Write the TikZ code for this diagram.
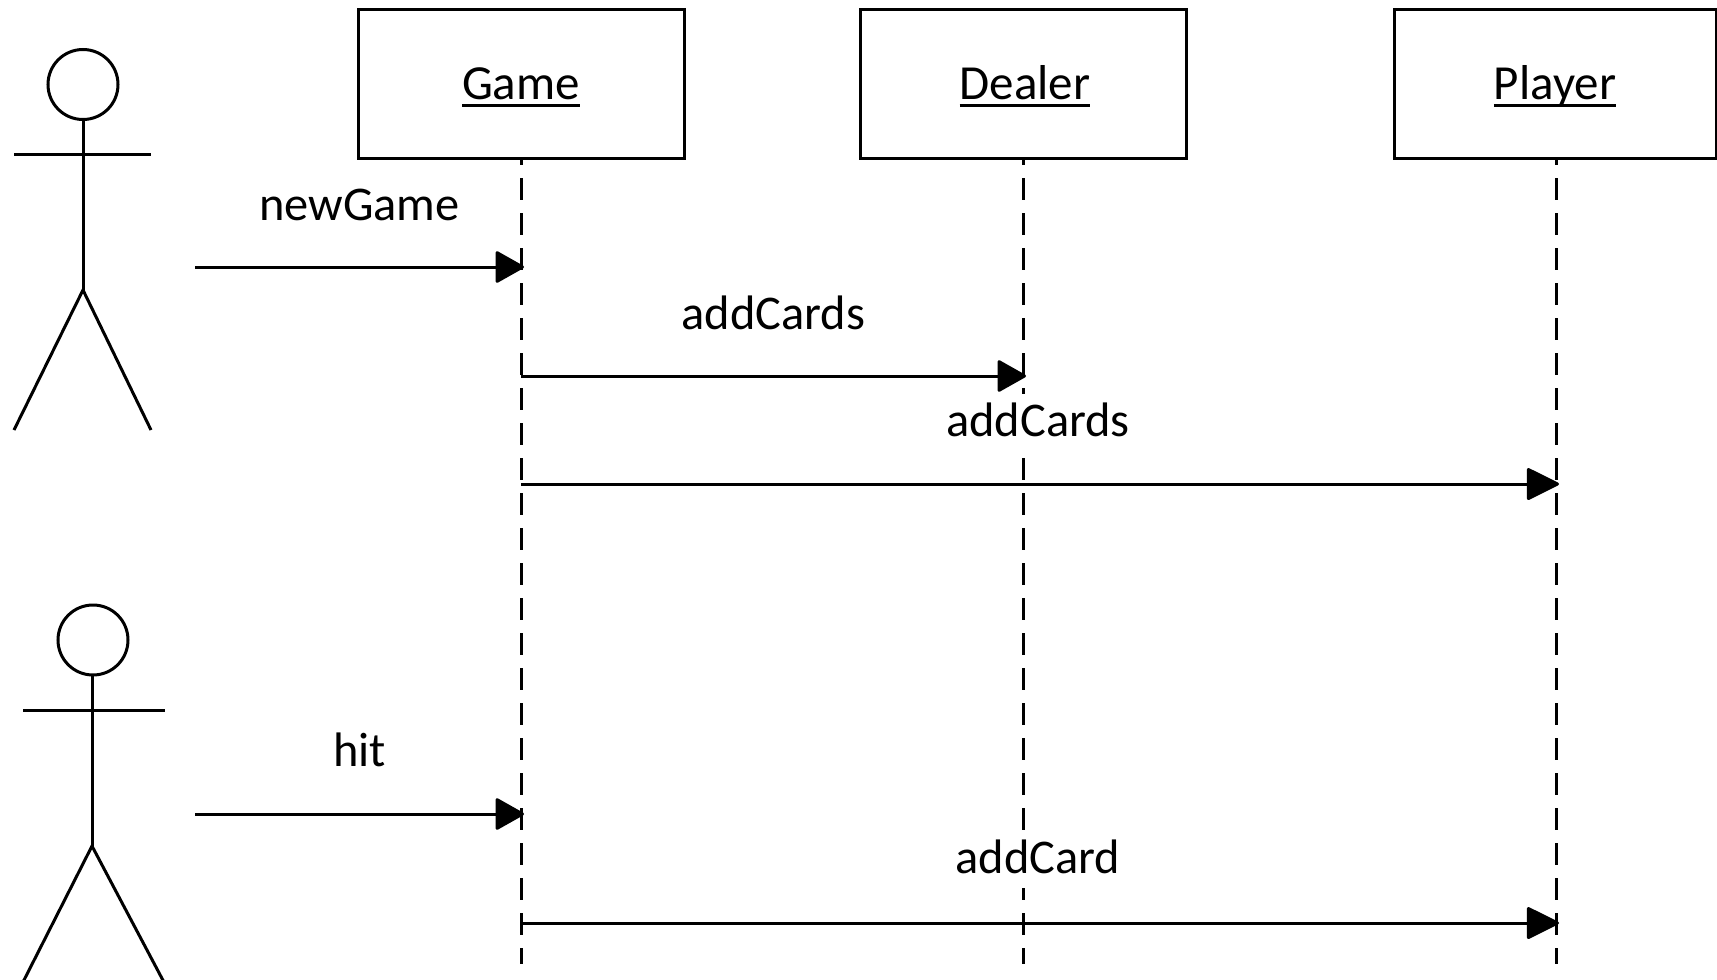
\documentclass[tikz,border=0pt]{standalone}
\usepackage{fontspec}
\setmainfont{Carlito}
\usetikzlibrary{arrows.meta, positioning, calc}
\newcommand{\ulname}[1]{\setbox0\hbox{#1}\rlap{\rule[-7.5pt]{\wd0}{3pt}}\box0}
\tikzstyle{lifebox} = [rectangle, draw=black, line width=3pt, minimum width=326pt, minimum height=149pt, outer sep=0pt, text height=37pt, text depth=6pt, font=\fontsize{49}{58}\selectfont]
\tikzstyle{lifeline} = [line width=3pt, dash pattern=on 22pt off 13pt, dash phase=15pt]
\tikzstyle{arrow} = [line width=3pt, -{Triangle[length=30pt, width=33pt, round]}]
\tikzstyle{longarrow} = [line width=3pt, -{Triangle[length=34pt, width=33pt, round]}]

\begin{document}
\begin{tikzpicture}[x=1pt, y=-1pt,
    node distance=176pt and 176pt,
    msg/.style={font=\fontsize{48.4}{58}\selectfont, anchor=base, inner sep=0pt, fill=white, text height=42pt, text depth=14pt},
    limb/.style={line width=3pt},
    head/.style={circle, draw, line width=3pt, minimum size=70pt, inner sep=0pt, outer sep=0pt}
  ]
    \useasboundingbox (0,0) rectangle (1717,980);
    \begin{scope}
    \clip (0,0) rectangle (1717,980);

    % Boxes along the top
    \node[lifebox] at (521,83.5) (Game) {\ulname{Game}};
    \node[lifebox, right=of Game] (Dealer) {\hspace*{4pt}\ulname{Dealer}};
    \node[lifebox, right=208pt of Dealer, minimum width=322pt] (Player) {\ulname{Player}};

    % Lifelines
    \coordinate (PlayerTop) at ($(Player.south)+(1,0)$);
    \coordinate (GameEnd) at (Game.south |- 0,964);
    \coordinate (DealerEnd) at (Dealer.south |- 0,964);
    \coordinate (PlayerEnd) at (PlayerTop |- 0,964);
    \draw[lifeline] (Game.south) -- (GameEnd);
    \draw[lifeline] (Dealer.south) -- (DealerEnd);
    \draw[lifeline] (PlayerTop) -- (PlayerEnd);

    % First actor
    \node[head] at (83,84.5) (HeadA) {};
    \coordinate (HipA) at (83,290);
    \coordinate (ArmAl) at (14,154);
    \coordinate (ArmAr) at (151,154);
    \coordinate (FootAl) at (14,430);
    \coordinate (FootAr) at (151,430);
    \draw[limb] (HeadA.south) -- (HipA);
    \draw[limb] (ArmAl) -- (ArmAr);
    \draw[limb] (FootAl) -- (HipA) -- (FootAr);

    % Second actor
    \node[head] at (93,640) (HeadB) {};
    \coordinate (HipB) at (92,846);
    \coordinate (ArmBl) at (23,710);
    \coordinate (ArmBr) at (165,710);
    \coordinate (FootBl) at (21,986);
    \coordinate (FootBr) at (166,986);
    \draw[limb] (HipB |- HeadB.south) -- (HipB);
    \draw[limb] (ArmBl) -- (ArmBr);
    \draw[limb] (FootBl) -- (HipB) -- (FootBr);

    % Messages
    \coordinate (StartA) at (195,267);
    \coordinate (StartB) at (195,814);
    \coordinate (NewEnd) at ($(Game.south |- 0,267)+(3,0)$);
    \coordinate (HitEnd) at ($(Game.south |- 0,814)+(3,0)$);
    \coordinate (CardsFrom) at (Game.south |- 0,376);
    \coordinate (CardsTo) at ($(Dealer.south |- 0,376)+(3,0)$);
    \coordinate (PCardsFrom) at (Game.south |- 0,484);
    \coordinate (PCardsTo) at ($(PlayerTop |- 0,484)+(3,0)$);
    \coordinate (CardFrom) at (Game.south |- 0,923);
    \coordinate (CardTo) at ($(PlayerTop |- 0,923)+(3,0)$);

    \draw[arrow] (StartA) -- (NewEnd) node[msg, midway, yshift=47pt] (LabNew) {newGame};
    \draw[arrow] (CardsFrom) -- (CardsTo) node[msg, midway, yshift=47pt] (LabCards) {addCards};
    \draw[longarrow] (PCardsFrom) -- (PCardsTo) node[msg, midway, xshift=-2pt, yshift=48pt] (LabPCards) {addCards};
    \draw[arrow] (StartB) -- (HitEnd) node[msg, midway, yshift=48pt] (LabHit) {hit};
    \draw[longarrow] (CardFrom) -- (CardTo) node[msg, midway, xshift=-2pt, yshift=49.5pt] (LabCard) {addCard};
    \end{scope}
  \end{tikzpicture}
\end{document}
